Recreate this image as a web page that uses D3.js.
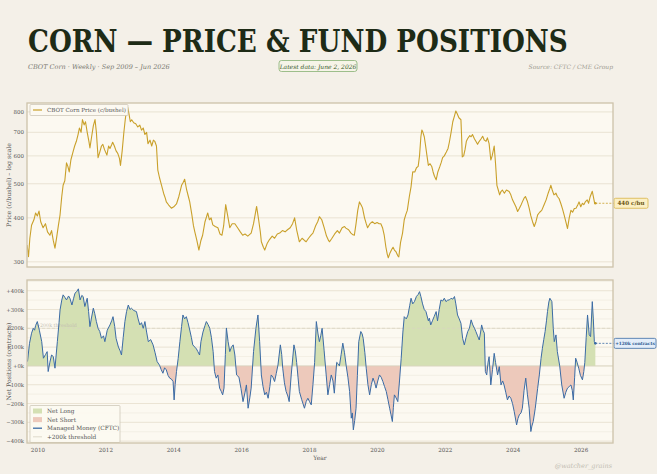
<!DOCTYPE html>
<html><head><meta charset="utf-8">
<script src="https://cdn.jsdelivr.net/npm/d3@7/dist/d3.min.js"></script>
<style>
html,body{margin:0;padding:0;background:#f4f0e8;}
svg{display:block;}
text{font-family:"DejaVu Serif","Liberation Serif",serif;}
</style></head>
<body>
<svg id="chart" width="657" height="474"></svg>
<script>
// ---------------- DATA ----------------
const priceYears = [2009.68,2009.72,2009.76,2009.81,2009.88,2009.93,2009.98,2010.03,2010.08,2010.15,2010.22,2010.28,2010.35,2010.40,2010.45,2010.50,2010.55,2010.60,2010.65,2010.70,2010.74,2010.79,2010.84,2010.88,2010.92,2010.97,2011.03,2011.08,2011.13,2011.18,2011.22,2011.27,2011.31,2011.36,2011.40,2011.45,2011.50,2011.53,2011.58,2011.63,2011.68,2011.72,2011.77,2011.82,2011.87,2011.91,2011.96,2012.03,2012.08,2012.12,2012.17,2012.20,2012.25,2012.30,2012.35,2012.40,2012.43,2012.48,2012.53,2012.57,2012.60,2012.64,2012.68,2012.72,2012.76,2012.82,2012.88,2012.94,2013.00,2013.05,2013.10,2013.15,2013.20,2013.24,2013.30,2013.35,2013.40,2013.44,2013.49,2013.53,2013.58,2013.64,2013.70,2013.75,2013.78,2013.85,2013.93,2014.00,2014.08,2014.15,2014.23,2014.28,2014.32,2014.38,2014.43,2014.47,2014.53,2014.58,2014.62,2014.68,2014.74,2014.80,2014.85,2014.92,2015.00,2015.05,2015.10,2015.15,2015.22,2015.30,2015.36,2015.42,2015.47,2015.53,2015.58,2015.65,2015.72,2015.80,2015.88,2015.96,2016.03,2016.10,2016.18,2016.28,2016.35,2016.40,2016.44,2016.50,2016.55,2016.58,2016.64,2016.68,2016.75,2016.82,2016.90,2016.97,2017.05,2017.12,2017.20,2017.28,2017.35,2017.43,2017.50,2017.56,2017.62,2017.70,2017.78,2017.85,2017.90,2017.97,2018.05,2018.10,2018.18,2018.24,2018.29,2018.36,2018.43,2018.50,2018.56,2018.59,2018.66,2018.74,2018.82,2018.88,2018.96,2019.03,2019.07,2019.15,2019.22,2019.28,2019.32,2019.37,2019.42,2019.47,2019.52,2019.56,2019.62,2019.67,2019.71,2019.78,2019.85,2019.92,2019.99,2020.05,2020.10,2020.15,2020.20,2020.25,2020.29,2020.32,2020.37,2020.42,2020.46,2020.50,2020.55,2020.60,2020.63,2020.68,2020.74,2020.79,2020.84,2020.88,2020.94,2020.99,2021.04,2021.10,2021.15,2021.20,2021.24,2021.28,2021.31,2021.34,2021.38,2021.42,2021.46,2021.50,2021.55,2021.60,2021.64,2021.68,2021.73,2021.78,2021.84,2021.88,2021.92,2021.97,2022.03,2022.08,2022.12,2022.17,2022.22,2022.27,2022.31,2022.35,2022.40,2022.46,2022.48,2022.50,2022.54,2022.58,2022.62,2022.66,2022.72,2022.76,2022.80,2022.86,2022.90,2022.95,2023.00,2023.05,2023.10,2023.15,2023.20,2023.24,2023.29,2023.34,2023.38,2023.44,2023.48,2023.52,2023.56,2023.60,2023.64,2023.68,2023.74,2023.80,2023.88,2023.93,2023.98,2024.03,2024.08,2024.13,2024.18,2024.23,2024.27,2024.32,2024.36,2024.42,2024.47,2024.52,2024.57,2024.62,2024.67,2024.72,2024.78,2024.84,2024.91,2024.97,2025.03,2025.08,2025.11,2025.15,2025.20,2025.26,2025.30,2025.35,2025.40,2025.45,2025.50,2025.55,2025.60,2025.65,2025.70,2025.75,2025.80,2025.85,2025.90,2025.94,2025.99,2026.04,2026.08,2026.13,2026.18,2026.22,2026.27,2026.33,2026.37,2026.40,2026.42];
const priceCents = [335,310,350,381,395,413,405,418,390,375,385,365,357,368,345,328,352,380,408,460,495,510,573,560,540,585,615,640,660,690,720,700,761,735,750,700,660,632,680,730,761,700,593,615,640,647,625,603,640,630,645,656,640,620,610,590,564,620,700,760,800,825,790,750,760,745,740,725,734,710,720,690,700,650,665,640,665,660,640,547,520,495,470,455,444,435,426,430,438,460,495,505,515,480,460,444,410,380,365,345,324,345,357,390,413,395,400,382,378,375,360,357,380,436,410,375,385,385,375,365,357,360,355,362,385,410,431,395,365,342,330,324,338,347,355,350,360,362,368,365,370,375,385,400,370,342,350,345,342,350,358,362,380,390,403,395,375,355,345,342,350,360,368,362,375,378,374,370,362,358,357,385,420,444,435,427,400,385,375,385,390,385,388,385,385,375,357,330,315,308,318,325,330,324,320,312,310,340,362,395,410,420,460,490,541,540,555,560,600,680,711,700,680,640,600,564,570,560,540,525,513,540,560,575,593,600,615,630,657,700,750,780,805,790,770,760,680,596,600,625,660,672,685,680,690,670,660,647,660,670,682,665,660,675,650,584,600,640,570,495,480,465,475,480,470,480,475,465,450,440,430,417,425,435,444,455,460,445,426,405,390,378,390,408,415,420,436,450,470,485,495,480,465,470,460,454,440,425,408,390,373,400,420,415,425,426,435,444,430,440,436,445,450,440,460,476,455,440,440];

const cotYears = [2009.69,2009.75,2009.81,2009.86,2009.90,2009.93,2009.98,2010.04,2010.11,2010.16,2010.22,2010.27,2010.30,2010.35,2010.40,2010.45,2010.50,2010.57,2010.62,2010.65,2010.70,2010.74,2010.79,2010.84,2010.90,2010.94,2011.00,2011.05,2011.09,2011.14,2011.19,2011.24,2011.29,2011.33,2011.38,2011.45,2011.49,2011.53,2011.58,2011.63,2011.67,2011.72,2011.77,2011.82,2011.87,2011.93,2011.97,2012.04,2012.12,2012.17,2012.21,2012.26,2012.30,2012.37,2012.42,2012.46,2012.51,2012.56,2012.61,2012.66,2012.71,2012.75,2012.82,2012.90,2012.95,2013.00,2013.05,2013.10,2013.15,2013.20,2013.25,2013.32,2013.39,2013.45,2013.51,2013.58,2013.63,2013.68,2013.73,2013.78,2013.83,2013.88,2013.93,2013.98,2014.01,2014.04,2014.08,2014.13,2014.18,2014.23,2014.27,2014.32,2014.37,2014.42,2014.47,2014.52,2014.56,2014.62,2014.67,2014.71,2014.76,2014.80,2014.86,2014.92,2014.96,2015.01,2015.06,2015.11,2015.16,2015.20,2015.25,2015.30,2015.35,2015.40,2015.44,2015.48,2015.52,2015.55,2015.60,2015.65,2015.70,2015.75,2015.80,2015.85,2015.92,2015.98,2016.04,2016.10,2016.14,2016.19,2016.24,2016.28,2016.35,2016.42,2016.48,2016.53,2016.58,2016.63,2016.68,2016.73,2016.78,2016.83,2016.87,2016.92,2016.97,2017.02,2017.07,2017.14,2017.18,2017.21,2017.26,2017.31,2017.36,2017.40,2017.46,2017.54,2017.58,2017.62,2017.66,2017.70,2017.77,2017.85,2017.90,2017.95,2018.00,2018.05,2018.10,2018.15,2018.20,2018.25,2018.29,2018.33,2018.37,2018.43,2018.49,2018.54,2018.59,2018.64,2018.69,2018.73,2018.80,2018.85,2018.88,2018.93,2018.98,2019.03,2019.08,2019.13,2019.18,2019.23,2019.26,2019.29,2019.33,2019.37,2019.41,2019.45,2019.51,2019.55,2019.58,2019.63,2019.67,2019.72,2019.77,2019.82,2019.87,2019.92,2019.96,2020.01,2020.06,2020.11,2020.16,2020.21,2020.26,2020.31,2020.36,2020.40,2020.44,2020.47,2020.50,2020.55,2020.60,2020.65,2020.70,2020.75,2020.79,2020.85,2020.90,2020.95,2020.99,2021.04,2021.09,2021.15,2021.20,2021.24,2021.28,2021.33,2021.38,2021.43,2021.50,2021.53,2021.57,2021.62,2021.67,2021.73,2021.77,2021.82,2021.87,2021.92,2021.97,2022.02,2022.07,2022.12,2022.17,2022.22,2022.27,2022.31,2022.36,2022.41,2022.46,2022.51,2022.56,2022.61,2022.66,2022.71,2022.76,2022.81,2022.86,2022.90,2022.95,2023.00,2023.04,2023.07,2023.11,2023.15,2023.18,2023.22,2023.26,2023.29,2023.34,2023.39,2023.44,2023.48,2023.54,2023.59,2023.64,2023.69,2023.73,2023.78,2023.83,2023.88,2023.93,2023.98,2024.03,2024.10,2024.14,2024.18,2024.23,2024.27,2024.32,2024.37,2024.42,2024.47,2024.52,2024.55,2024.59,2024.65,2024.72,2024.77,2024.82,2024.86,2024.90,2024.94,2024.98,2025.01,2025.05,2025.08,2025.14,2025.18,2025.21,2025.26,2025.30,2025.37,2025.43,2025.50,2025.55,2025.60,2025.65,2025.70,2025.74,2025.77,2025.81,2025.84,2025.88,2025.93,2025.98,2026.04,2026.08,2026.11,2026.15,2026.19,2026.24,2026.28,2026.33,2026.36,2026.39,2026.42];
const cotNetK = [23,120,174,200,190,215,236,190,129,41,60,76,-30,20,58,50,-12,129,230,298,350,378,365,351,372,360,324,360,387,395,410,351,375,369,316,360,290,209,260,307,280,236,200,183,147,160,129,190,218,240,262,210,147,100,80,58,150,236,290,324,300,307,295,289,250,218,230,200,236,180,129,140,112,70,23,4,-20,-39,-10,-21,-50,-65,-70,-83,-181,-100,-30,40,129,210,271,250,262,230,191,150,112,100,90,76,58,129,180,215,236,220,200,150,76,-30,-65,-48,-118,-136,-154,-118,60,202,130,76,100,112,58,-48,-60,-120,-190,-140,-101,-225,-170,-118,76,200,271,129,-48,-110,-154,-140,-172,-110,-48,-60,-83,-40,5,112,60,-12,-90,-136,-160,-190,-48,112,80,19,-60,-136,-180,-225,-190,-172,-190,-207,-100,19,236,170,129,160,200,80,-48,-154,-100,-48,-80,-145,19,10,0,60,121,70,0,-60,-136,-278,-250,-340,-290,-225,-50,129,183,170,147,70,-12,-100,-154,-100,-65,-90,-118,-80,-48,-60,-83,-110,-136,-180,-225,-260,-296,-220,-154,-170,-190,-80,41,180,262,250,271,320,360,330,342,370,380,395,369,330,300,289,240,254,218,240,262,289,240,300,351,345,360,342,350,351,360,355,369,330,271,250,227,147,112,150,183,200,245,218,200,183,160,138,180,218,190,174,-30,-48,20,49,-101,-20,67,19,-48,-4,-101,-80,-101,-140,-181,-160,-172,-200,-243,-314,-280,-260,-250,-225,-130,-65,-154,-225,-349,-320,-296,-225,-119,-48,40,94,140,183,240,289,340,360,342,200,129,165,76,0,-101,-172,-140,-118,-110,-101,-130,-181,-60,41,20,-12,-50,-74,-30,19,150,271,165,156,342,250,129,120];

const priceTicks = [300,400,500,600,700,800];
const netTicksK = [-400,-300,-200,-100,0,100,200,300,400];
const yearTicks = [2010,2012,2014,2016,2018,2020,2022,2024,2026];
const thresholdK = 200;

// ---------------- LAYOUT ----------------
const svg = d3.select("#chart");
const L = 27, R = 613;
const top1 = 103, bot1 = 267, top2 = 280, bot2 = 443;
const ink = "#555", gridC = "#e4ddcc", frameC = "#cdc2aa", plotBg = "#fcf9f1";
const gold = "#c9a02a", blue = "#3b6ba5", greenF = "#d4e0b3", redF = "#edc9bb";

const x = d3.scaleLinear().domain([2009.676, 2026.94]).range([L, R]);
const yP = d3.scaleLog().domain([290, 848]).range([bot1, top1]);
const yN = d3.scaleLinear().domain([-410, 457]).range([bot2, top2]);

// ---------- header ----------
const title = svg.append("text")
  .attr("font-size", 31).attr("font-weight", "bold").attr("fill", "#1e2b16")
  .text("CORN — PRICE & FUND POSITIONS");
const tw = title.node().getComputedTextLength();
title.attr("transform", `translate(28,52) scale(${540 / tw},1)`);

svg.append("text").attr("x", 28).attr("y", 69).attr("font-size", 6.5)
  .attr("font-style", "italic").attr("fill", "#7a7a72")
  .text("CBOT Corn  ·  Weekly  ·  Sep 2009 – Jun 2026");
svg.append("rect").attr("x", 279).attr("y", 60.5).attr("width", 78).attr("height", 11).attr("rx", 2.5)
  .attr("fill", "#f6f4e8").attr("stroke", "#86b072").attr("stroke-width", 0.8);
svg.append("text").attr("x", 318).attr("y", 68.5).attr("font-size", 6).attr("text-anchor", "middle")
  .attr("font-style", "italic").attr("fill", "#3c5a2c").text("Latest data: June 2, 2026");
svg.append("text").attr("x", 613).attr("y", 69).attr("font-size", 6).attr("text-anchor", "end")
  .attr("font-style", "italic").attr("fill", "#a09c92").text("Source: CFTC / CME Group");

// ---------- panel backgrounds ----------
function panelBg(t, b) {
  svg.append("rect").attr("x", L).attr("y", t).attr("width", R - L).attr("height", b - t).attr("fill", plotBg);
}
panelBg(top1, bot1); panelBg(top2, bot2);

// ---------- price panel ----------
const gP = svg.append("g");
gP.selectAll("line.grid").data(priceTicks).join("line")
  .attr("x1", L).attr("x2", R).attr("y1", d => yP(d)).attr("y2", d => yP(d))
  .attr("stroke", gridC).attr("stroke-width", 0.8);
gP.selectAll("text.tick").data(priceTicks).join("text")
  .attr("x", 24).attr("y", d => yP(d) + 2).attr("text-anchor", "end")
  .attr("font-size", 5.5).attr("fill", ink).text(d => d);

const defs = svg.append("defs");
defs.append("clipPath").attr("id", "clipP").append("rect")
  .attr("x", L).attr("y", top1).attr("width", R - L).attr("height", bot1 - top1);
const priceData = priceYears.map((t, i) => [t, priceCents[i]]);
gP.append("path").datum(priceData).attr("clip-path", "url(#clipP)")
  .attr("fill", "none").attr("stroke", gold).attr("stroke-width", 1.1).attr("stroke-linejoin", "round")
  .attr("d", d3.line().x(d => x(d[0])).y(d => yP(d[1])));

svg.append("text").attr("transform", `translate(11,${(top1 + bot1) / 2}) rotate(-90)`)
  .attr("text-anchor", "middle").attr("font-size", 6.2).attr("fill", ink)
  .text("Price (c/bushel) – log scale");

// legend top
svg.append("rect").attr("x", 30).attr("y", 104.5).attr("width", 98).attr("height", 11)
  .attr("fill", plotBg).attr("stroke", "#c9c2b2").attr("stroke-width", 0.7).attr("rx", 1);
svg.append("line").attr("x1", 33).attr("x2", 42).attr("y1", 110).attr("y2", 110)
  .attr("stroke", gold).attr("stroke-width", 1.2);
svg.append("text").attr("x", 47).attr("y", 112).attr("font-size", 5.6).attr("fill", ink)
  .text("CBOT Corn Price (c/bushel)");

// last price label
const lastP = priceData[priceData.length - 1];
svg.append("line").attr("x1", x(lastP[0])).attr("x2", 614).attr("y1", yP(lastP[1])).attr("y2", yP(lastP[1]))
  .attr("stroke", "#c9a02a").attr("stroke-width", 0.8).attr("stroke-dasharray", "2,1.5");
svg.append("circle").attr("cx", x(lastP[0])).attr("cy", yP(lastP[1])).attr("r", 1.3).attr("fill", gold);
svg.append("rect").attr("x", 614).attr("y", yP(lastP[1]) - 5).attr("width", 34).attr("height", 10).attr("rx", 1.5)
  .attr("fill", "#fbefc4").attr("stroke", "#d8b548").attr("stroke-width", 0.8);
svg.append("text").attr("x", 631).attr("y", yP(lastP[1]) + 2).attr("text-anchor", "middle")
  .attr("font-size", 5.6).attr("font-weight", "bold").attr("fill", "#6b5612")
  .text(`${lastP[1]} c/bu`);

// ---------- net positions panel ----------
const gN = svg.append("g");
const minor = d3.range(-400, 451, 50).filter(v => v % 100 !== 0);
gN.selectAll("line.minor").data(minor).join("line")
  .attr("x1", L).attr("x2", R).attr("y1", d => yN(d)).attr("y2", d => yN(d))
  .attr("stroke", "#efeadd").attr("stroke-width", 0.6);
gN.selectAll("line.grid").data(netTicksK).join("line")
  .attr("x1", L).attr("x2", R).attr("y1", d => yN(d)).attr("y2", d => yN(d))
  .attr("stroke", gridC).attr("stroke-width", 0.8);
const fmtK = v => v > 0 ? `+${v}k` : v === 0 ? "+0k" : `−${Math.abs(v)}k`;
gN.selectAll("text.tick").data(netTicksK).join("text")
  .attr("x", 24).attr("y", d => yN(d) + 2).attr("text-anchor", "end")
  .attr("font-size", 5.3).attr("fill", ink).text(fmtK);

defs.append("clipPath").attr("id", "clipAbove").append("rect")
  .attr("x", L).attr("y", top2).attr("width", R - L).attr("height", yN(0) - top2);
defs.append("clipPath").attr("id", "clipBelow").append("rect")
  .attr("x", L).attr("y", yN(0)).attr("width", R - L).attr("height", bot2 - yN(0));

const netData = cotYears.map((t, i) => [t, cotNetK[i]]);
const area = d3.area().x(d => x(d[0])).y0(yN(0)).y1(d => yN(d[1]));
gN.append("path").datum(netData).attr("clip-path", "url(#clipAbove)").attr("fill", greenF).attr("d", area);
gN.append("path").datum(netData).attr("clip-path", "url(#clipBelow)").attr("fill", redF).attr("d", area);

gN.append("line").attr("x1", L).attr("x2", R).attr("y1", yN(0)).attr("y2", yN(0))
  .attr("stroke", "#d9d2c0").attr("stroke-width", 0.7);
// threshold
gN.append("line").attr("x1", L).attr("x2", R).attr("y1", yN(thresholdK)).attr("y2", yN(thresholdK))
  .attr("stroke", "#d8d2c2").attr("stroke-width", 0.7).attr("stroke-dasharray", "3,2");
gN.append("text").attr("x", 36).attr("y", yN(thresholdK) - 1.5).attr("font-size", 4.8)
  .attr("fill", "#c4bfb2").text("+200k threshold");

gN.append("path").datum(netData).attr("fill", "none").attr("stroke", blue)
  .attr("stroke-width", 1).attr("stroke-linejoin", "round")
  .attr("d", d3.line().x(d => x(d[0])).y(d => yN(d[1])));

svg.append("text").attr("transform", `translate(11,${(top2 + bot2) / 2}) rotate(-90)`)
  .attr("text-anchor", "middle").attr("font-size", 6.2).attr("fill", ink)
  .text("Net Positions (contracts)");

// last net label
const lastN = netData[netData.length - 1];
svg.append("line").attr("x1", x(lastN[0])).attr("x2", 614).attr("y1", yN(lastN[1])).attr("y2", yN(lastN[1]))
  .attr("stroke", blue).attr("stroke-width", 0.8).attr("stroke-dasharray", "2,1.5");
svg.append("circle").attr("cx", x(lastN[0])).attr("cy", yN(lastN[1])).attr("r", 1.3).attr("fill", blue);
svg.append("rect").attr("x", 614).attr("y", yN(lastN[1]) - 5).attr("width", 42).attr("height", 10).attr("rx", 1.5)
  .attr("fill", "#e3edf9").attr("stroke", blue).attr("stroke-width", 0.8);
svg.append("text").attr("x", 635).attr("y", yN(lastN[1]) + 1.8).attr("text-anchor", "middle")
  .attr("font-size", 4.3).attr("font-weight", "bold").attr("fill", "#2b5a92")
  .text(`+${lastN[1]}k contracts`);

// legend bottom
const lg = svg.append("g");
lg.append("rect").attr("x", 30).attr("y", 405.5).attr("width", 90).attr("height", 37)
  .attr("fill", plotBg).attr("fill-opacity", 0.9).attr("stroke", "#c9c2b2").attr("stroke-width", 0.7).attr("rx", 1);
const legItems = [
  {label: "Net Long", kind: "patch", color: greenF},
  {label: "Net Short", kind: "patch", color: redF},
  {label: "Managed Money (CFTC)", kind: "line", color: blue},
  {label: "+200k threshold", kind: "thin", color: "#d8d2c2"}
];
legItems.forEach((it, i) => {
  const cy = 411 + i * 8.6;
  if (it.kind === "patch") lg.append("rect").attr("x", 33).attr("y", cy - 2.5).attr("width", 9).attr("height", 5).attr("fill", it.color);
  else lg.append("line").attr("x1", 33).attr("x2", 42).attr("y1", cy).attr("y2", cy)
    .attr("stroke", it.color).attr("stroke-width", it.kind === "line" ? 1.3 : 0.8);
  lg.append("text").attr("x", 47).attr("y", cy + 2).attr("font-size", 5.8).attr("fill", ink).text(it.label);
});

// frames
[[top1, bot1], [top2, bot2]].forEach(([t, b]) => {
  svg.append("rect").attr("x", L).attr("y", t).attr("width", R - L).attr("height", b - t)
    .attr("fill", "none").attr("stroke", frameC).attr("stroke-width", 1.3);
});

// x axis
svg.selectAll("text.year").data(yearTicks).join("text")
  .attr("x", d => x(d)).attr("y", 452).attr("text-anchor", "middle")
  .attr("font-size", 5.6).attr("fill", ink).text(d => d);
svg.append("text").attr("x", (L + R) / 2).attr("y", 460).attr("text-anchor", "middle")
  .attr("font-size", 6).attr("fill", ink).text("Year");

svg.append("text").attr("x", 612).attr("y", 468).attr("text-anchor", "end")
  .attr("font-size", 6.5).attr("font-style", "italic").attr("fill", "#c2bdb2").text("@watcher_grains");
</script>
</body></html>
